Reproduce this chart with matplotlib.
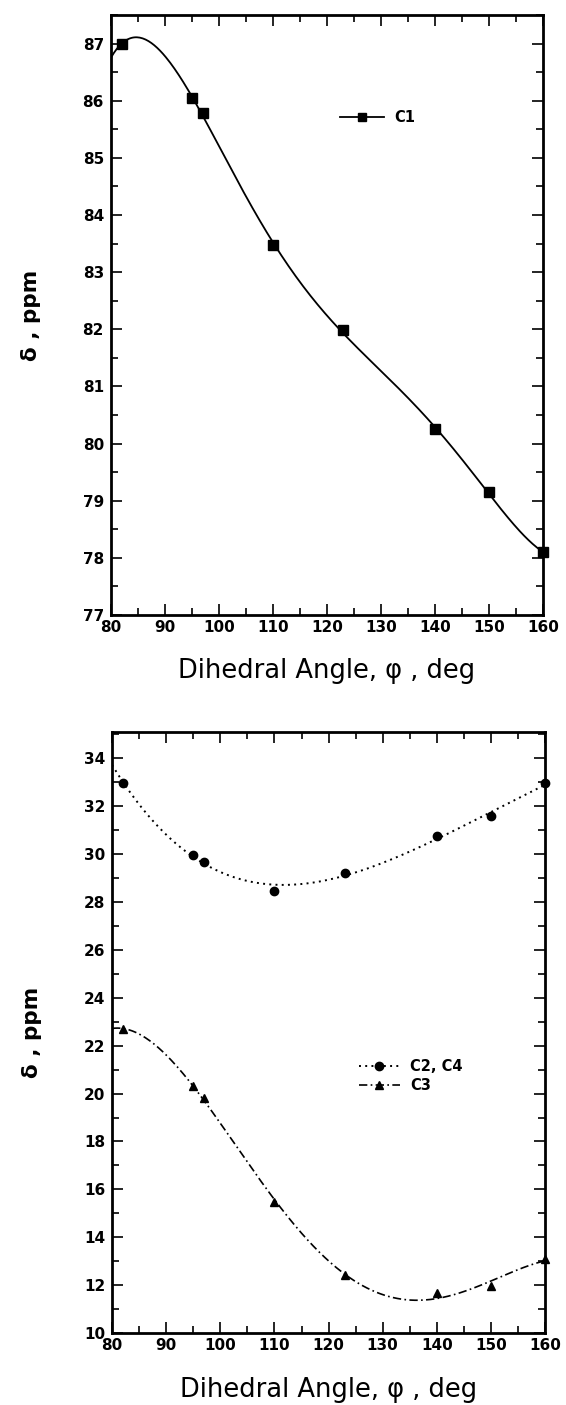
import numpy as np
import matplotlib
matplotlib.use("Agg")
import matplotlib.pyplot as plt
from matplotlib.ticker import MultipleLocator

# dihedral angle (deg) and carbon shifts (ppm)
angle = [82, 95, 97, 110, 123, 140, 150, 160]
c1 = [87.0, 86.05, 85.78, 83.48, 81.98, 80.25, 79.15, 78.1]
c2_c4 = [32.98, 29.98, 29.66, 28.48, 29.22, 30.75, 31.59, 32.95]
c3 = [22.7, 20.3, 19.8, 15.48, 12.42, 11.66, 11.96, 13.08]

plt.rcParams['font.family'] = ['DejaVu Sans']

fig = plt.figure(figsize=(5.66, 14.05), dpi=100)
ax1 = fig.add_axes([0.196, 0.5623, 0.763, 0.4270])
ax2 = fig.add_axes([0.198, 0.0512, 0.765, 0.4278])

xs = np.linspace(80, 160, 300)


def fit(y, deg):
    return np.polyval(np.polyfit(angle, y, deg), xs)


def style(ax, ymin, ymax, ymaj, ymin_step):
    ax.set_xlim(80, 160)
    ax.set_ylim(ymin, ymax)
    ax.xaxis.set_major_locator(MultipleLocator(10))
    ax.xaxis.set_minor_locator(MultipleLocator(5))
    ax.yaxis.set_major_locator(MultipleLocator(ymaj))
    ax.yaxis.set_minor_locator(MultipleLocator(ymin_step))
    ax.tick_params(which='both', direction='in', top=True, right=True,
                   width=1.2, colors='black')
    ax.tick_params(which='major', length=8, labelsize=11)
    ax.tick_params(axis='x', which='major', pad=3.5)
    ax.tick_params(axis='y', which='major', pad=5)
    ax.tick_params(which='minor', length=5)
    for lab in ax.get_xticklabels() + ax.get_yticklabels():
        lab.set_fontweight('bold')
    for sp in ax.spines.values():
        sp.set_linewidth(2.0)
    ax.set_xlabel('Dihedral Angle, φ , deg', fontsize=18.5, labelpad=17)
    ax.set_ylabel('δ , ppm', fontsize=15.5, fontweight='bold', labelpad=30)


# upper panel: C1
ax1.plot(xs, fit(c1, 5), color='black', lw=1.3)
ax1.plot(angle, c1, 's', color='black', ms=6.5, clip_on=False)
ax1.plot([], [], '-s', color='black', lw=1.3, ms=6, label='C1')
style(ax1, 77, 87.5, 1, 0.5)
ax1.legend(loc='upper left', bbox_to_anchor=(0.50, 0.863), frameon=False,
           handlelength=3.0, handletextpad=0.7,
           prop={'size': 10.5, 'weight': 'bold'})

# lower panel: C2, C4 and C3
ax2.plot(xs, fit(c2_c4, 4), color='black', lw=1.4, dashes=(1, 2.2))
ax2.plot(angle, c2_c4, 'o', color='black', ms=6, clip_on=False)
ax2.plot(xs, fit(c3, 4), color='black', lw=1.2, dashes=(5, 2, 1, 2))
ax2.plot(angle, c3, '^', color='black', ms=5.5, clip_on=False)
ax2.plot([], [], 'o', color='black', lw=1.4, ms=6, dashes=(1, 2.2),
         linestyle='-', label='C2, C4')
ax2.plot([], [], '^', color='black', lw=1.2, ms=6, dashes=(5, 2, 1, 2),
         linestyle='-', label='C3')
style(ax2, 10, 35.1, 2, 1)
ax2.legend(loc='upper left', bbox_to_anchor=(0.54, 0.477), frameon=False,
           handlelength=2.8, handletextpad=0.7, labelspacing=0.25,
           prop={'size': 10.5, 'weight': 'bold'})

fig.savefig('out.png', dpi=100)
